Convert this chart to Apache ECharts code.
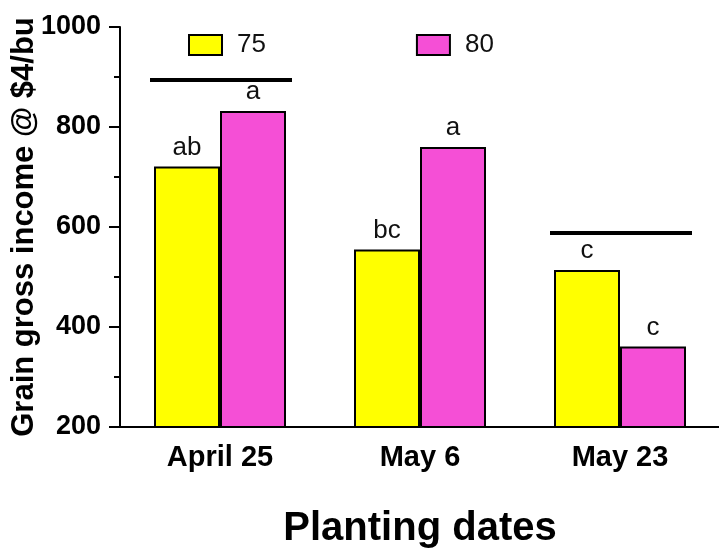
<!DOCTYPE html>
<html>
<head>
<meta charset="utf-8">
<script src="https://cdn.jsdelivr.net/npm/echarts@6/dist/echarts.min.js"></script>
<style>
  html, body { margin: 0; padding: 0; background: #fff; }
  #main { width: 719px; height: 552px; }
</style>
</head>
<body>
<div id="main"></div>
<script>
var dates = ['April 25', 'May 6', 'May 23'];
var income75 = [721, 555, 514];
var income80 = [832, 760, 361];
var letters75 = ['ab', 'bc', 'c'];
var letters80 = ['a', 'a', 'c'];
// significance bars: [category index, value]
var sigBars = [[0, 894], [2, 588]];

var myChart = echarts.init(document.getElementById('main'));

var font = 'Liberation Sans, Arial, sans-serif';

function barSeries(name, values, letters, color) {
    return {
        name: name,
        type: 'bar',
        data: values,
        barWidth: 66,
        barGap: '0%',
        itemStyle: { color: color, borderColor: '#000', borderWidth: 2 },
        label: {
            show: true,
            position: 'top',
            distance: 6,
            fontFamily: font,
            fontSize: 26,
            color: '#111',
            formatter: function (p) { return letters[p.dataIndex]; }
        }
    };
}

myChart.setOption({
    backgroundColor: '#ffffff',
    animation: false,
    legend: {
        data: ['75', '80'],
        left: 183,
        top: 27,
        icon: 'rect',
        itemWidth: 33,
        itemHeight: 20,
        itemGap: 150,
        itemStyle: { borderColor: '#000', borderWidth: 2 },
        textStyle: { fontFamily: font, fontSize: 26, color: '#111', padding: [0, 0, 0, 10] }
    },
    grid: { left: 120, top: 27, width: 600, bottom: 125, containLabel: false, outerBoundsMode: 'none' },
    xAxis: {
        type: 'category',
        data: dates,
        name: 'Planting dates',
        nameLocation: 'middle',
        nameGap: 82,
        nameMoveOverlap: false,
        nameTextStyle: { fontFamily: font, fontSize: 40, fontWeight: 'bold', color: '#000' },
        axisLine: { lineStyle: { color: '#000', width: 2 } },
        axisTick: { alignWithLabel: true, length: 9, lineStyle: { color: '#000', width: 2 } },
        axisLabel: { fontFamily: font, fontSize: 29, fontWeight: 'bold', color: '#000', margin: 16 }
    },
    yAxis: {
        type: 'value',
        min: 200,
        max: 1000,
        interval: 200,
        name: 'Grain gross income @ $4/bu',
        nameLocation: 'middle',
        nameGap: 80,
        nameMoveOverlap: false,
        nameTextStyle: { fontFamily: font, fontSize: 31, fontWeight: 'bold', color: '#000' },
        axisLine: { show: true, lineStyle: { color: '#000', width: 2 } },
        axisTick: { show: true, length: 11, lineStyle: { color: '#000', width: 2 } },
        minorTick: { show: true, splitNumber: 2, length: 6, lineStyle: { color: '#000', width: 2 } },
        splitLine: { show: false },
        axisLabel: {
            fontFamily: font, fontSize: 27, fontWeight: 'bold', color: '#000', margin: 19,
            formatter: function (v) { return String(v); }
        }
    },
    series: [
        barSeries('75', income75, letters75, '#FFFF00'),
        barSeries('80', income80, letters80, '#F54FD6'),
        {
            type: 'custom',
            name: 'sig',
            data: sigBars,
            z: 5,
            renderItem: function (params, api) {
                var p = api.coord([api.value(0), api.value(1)]);
                var band = api.size([1, 0])[0];
                return {
                    type: 'line',
                    shape: { x1: p[0] - band * 0.35, y1: p[1], x2: p[0] + band * 0.36, y2: p[1] },
                    style: { stroke: '#000', lineWidth: 4 }
                };
            }
        }
    ]
});
</script>
</body>
</html>
